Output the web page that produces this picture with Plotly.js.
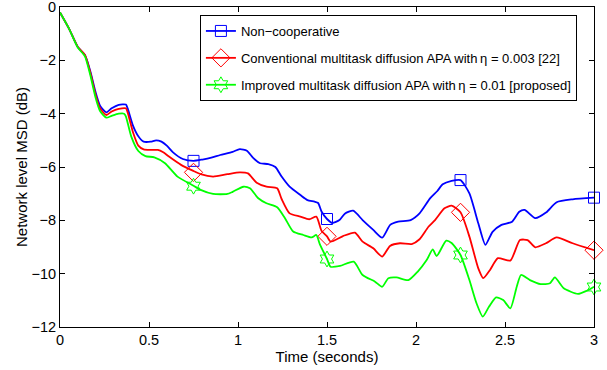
<!DOCTYPE html>
<html>
<head>
<meta charset="utf-8">
<script src="https://cdn.plot.ly/plotly-3.0.1.min.js"></script>
<style>html,body{margin:0;padding:0;background:#fff;}#chart{width:607px;height:370px;}</style>
</head>
<body>
<div id="chart"></div>
<script>
// Non-cooperative (blue)
const tNonCoop = [0,0.05,0.1,0.14,0.17,0.2,0.225,0.26,0.29,0.33,0.37,0.38,0.41,0.44,0.47,0.51,0.54,0.57,0.6,0.635,0.69,0.75,0.8,0.85,0.9,0.97,1.01,1.05,1.085,1.124,1.17,1.21,1.245,1.29,1.35,1.39,1.43,1.45,1.47,1.5,1.53,1.57,1.6,1.647,1.7,1.76,1.81,1.855,1.9,1.97,2.02,2.08,2.12,2.15,2.2,2.25,2.3,2.35,2.39,2.43,2.48,2.54,2.58,2.61,2.67,2.73,2.79,2.88,3.0];
const msdNonCoop = [-0.2,-0.8,-1.5,-1.8,-2.4,-3.2,-3.7,-3.95,-3.8,-3.67,-3.66,-3.8,-4.45,-4.85,-5.05,-5.05,-5.0,-5.05,-5.2,-5.45,-5.7,-5.77,-5.72,-5.65,-5.55,-5.43,-5.33,-5.39,-5.66,-5.86,-5.89,-6.0,-6.36,-6.74,-7.05,-7.24,-7.3,-7.35,-7.68,-7.95,-8.1,-7.99,-7.75,-7.64,-7.99,-8.36,-8.65,-8.17,-8.05,-7.99,-7.74,-7.17,-6.9,-6.65,-6.52,-6.49,-6.99,-8.11,-8.92,-8.43,-8.17,-8.05,-7.68,-7.61,-7.92,-7.71,-7.32,-7.21,-7.15];

// Conventional multitask diffusion APA (red)
const tConv = [0,0.05,0.1,0.14,0.17,0.2,0.225,0.26,0.29,0.33,0.37,0.38,0.41,0.44,0.47,0.51,0.55,0.58,0.61,0.68,0.75,0.79,0.86,0.94,1.01,1.056,1.105,1.16,1.22,1.245,1.29,1.35,1.4,1.44,1.47,1.5,1.52,1.59,1.657,1.7,1.76,1.81,1.854,1.91,1.976,2.02,2.07,2.107,2.16,2.2,2.25,2.3,2.35,2.378,2.416,2.46,2.53,2.584,2.627,2.67,2.73,2.79,2.88,3.0];
const msdConv = [-0.2,-0.8,-1.5,-1.8,-2.45,-3.3,-3.8,-4.05,-3.92,-3.82,-3.8,-3.95,-4.7,-5.2,-5.34,-5.36,-5.36,-5.45,-5.6,-5.92,-6.15,-6.27,-6.36,-6.27,-6.2,-6.24,-6.59,-6.74,-6.8,-7.2,-7.74,-7.86,-7.96,-7.86,-8.4,-8.6,-8.8,-8.59,-8.46,-8.8,-9.05,-9.36,-8.96,-8.86,-8.89,-8.71,-8.24,-7.99,-7.55,-7.45,-7.7,-8.61,-9.8,-10.17,-9.86,-9.42,-9.51,-8.74,-8.74,-9.01,-8.86,-8.64,-8.86,-9.12];

// Improved multitask diffusion APA (green)
const tImp = [0,0.05,0.1,0.14,0.17,0.2,0.225,0.26,0.29,0.33,0.36,0.37,0.4,0.44,0.48,0.53,0.59,0.66,0.75,0.79,0.86,0.94,0.97,1.03,1.067,1.114,1.16,1.22,1.264,1.31,1.367,1.414,1.44,1.46,1.5,1.52,1.573,1.65,1.7,1.77,1.81,1.845,1.89,1.957,2.01,2.06,2.094,2.116,2.17,2.2,2.25,2.3,2.34,2.375,2.41,2.45,2.49,2.53,2.566,2.59,2.64,2.7,2.753,2.78,2.83,2.91,2.96,3.0];
const msdImp = [-0.2,-0.8,-1.52,-1.85,-2.55,-3.4,-3.9,-4.15,-4.08,-4.0,-4.0,-4.1,-4.85,-5.4,-5.59,-5.64,-5.86,-6.36,-6.7,-6.86,-7.01,-7.01,-6.93,-6.74,-6.8,-7.17,-7.36,-7.51,-7.92,-8.42,-8.55,-8.64,-8.55,-8.9,-9.45,-9.74,-9.71,-9.55,-10.05,-10.3,-10.49,-10.17,-10.14,-10.24,-9.92,-9.49,-9.09,-9.34,-8.76,-8.85,-9.3,-10.24,-11.11,-11.61,-11.24,-10.89,-10.99,-11.3,-10.49,-10.05,-10.24,-10.39,-10.36,-10.14,-10.55,-10.76,-10.64,-10.49];

// Marker positions
const markT = [0.75,1.5,2.25,3.0];
const markNonCoop = [-5.77,-7.95,-6.49,-7.15];
const markConv = [-6.2,-8.6,-7.7,-9.12];
const markImp = [-6.72,-9.45,-9.3,-10.5];

const seriesNames = [
  'Non\u2212cooperative',
  'Conventional multitask diffusion APA with\u2009\u03b7 = 0.003 [22]',
  'Improved multitask diffusion APA with\u2009\u03b7 = 0.01 [proposed]'
];

function gapped(xs, ys){
  const gx=[], gy=[];
  for(let i=0;i<xs.length;i++){ gx.push(xs[i]); gy.push(ys[i]); gx.push(null); gy.push(null); }
  return {x:gx, y:gy};
}

const specs = [
  {t:tNonCoop, y:msdNonCoop, my:markNonCoop, color:'#0000ff', symbol:'square-open', size:11},
  {t:tConv, y:msdConv, my:markConv, color:'#ff0000', symbol:'diamond-open', size:14},
  {t:tImp, y:msdImp, my:markImp, color:'#00ff00', symbol:'hexagram-open', size:12}
];

const traces = [];
specs.forEach((s,i)=>{
  traces.push({x:s.t, y:s.y, mode:'lines', type:'scatter', line:{color:s.color, width:1.8, shape:'spline', smoothing:0.6},
    showlegend:false, legendgroup:'g'+i, hoverinfo:'skip'});
  const g = gapped(markT, s.my);
  traces.push({x:g.x, y:g.y, mode:'lines+markers', type:'scatter', connectgaps:false, name:seriesNames[i], cliponaxis:false,
    line:{color:s.color, width:1.8}, marker:{symbol:s.symbol, size:s.size, color:s.color, line:{color:s.color, width:1}},
    legendgroup:'g'+i});
});

const layout = {
  width:607, height:370,
  margin:{l:60, r:13, t:7, b:43},
  paper_bgcolor:'#fff', plot_bgcolor:'#fff',
  font:{family:'Arial, "Liberation Sans", sans-serif', size:14, color:'#000'},
  showlegend:true,
  legend:{x:0.262, y:0.975, xanchor:'left', yanchor:'top', bordercolor:'#000', borderwidth:1, bgcolor:'#fff',
    font:{size:13}, tracegroupgap:7, traceorder:'grouped'},
  xaxis:{range:[0,3], dtick:0.5, tick0:0, showline:true, linecolor:'#000', linewidth:1, mirror:'ticks',
    ticks:'inside', ticklen:5, tickcolor:'#000', showgrid:false, zeroline:false, ticklabeloverflow:'allow',
    tickfont:{size:14.5}, title:{text:'Time (seconds)', font:{size:15}, standoff:4}},
  yaxis:{range:[-12,0], dtick:2, tick0:0, showline:true, linecolor:'#000', linewidth:1, mirror:'ticks',
    ticks:'inside', ticklen:5, tickcolor:'#000', showgrid:false, zeroline:false, ticklabeloverflow:'allow',
    tickfont:{size:14.5}, title:{text:'Network level MSD (dB)', font:{size:15}, standoff:0}}
};

Plotly.newPlot('chart', traces, layout, {displayModeBar:false, staticPlot:true});
</script>
</body>
</html>
